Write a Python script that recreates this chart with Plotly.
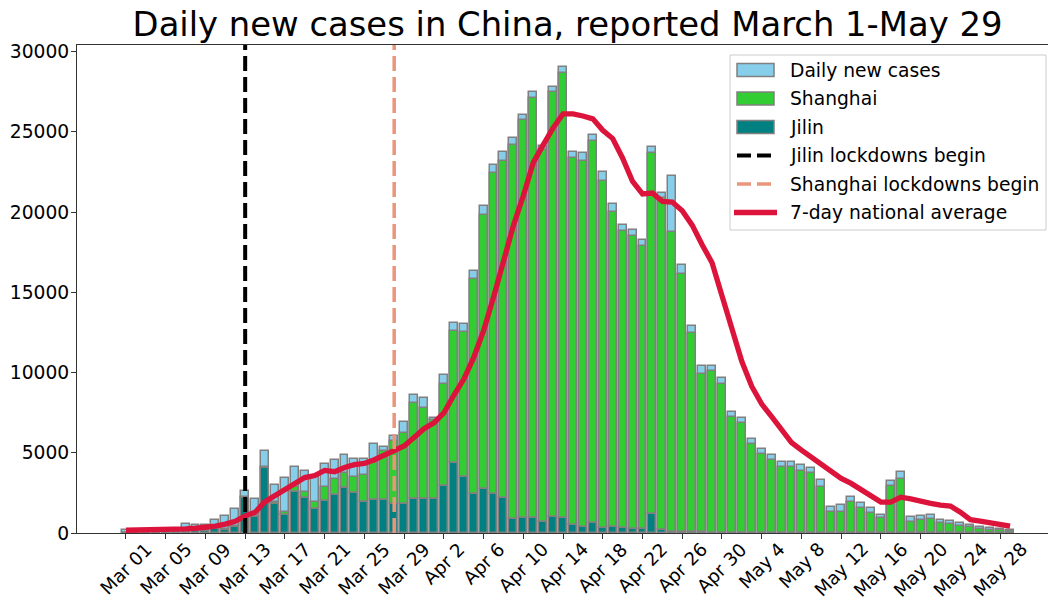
import pandas as pd
import plotly.graph_objects as go

# ---------------- data ----------------
dates = pd.date_range("2022-03-01", "2022-05-29").strftime("%Y-%m-%d").tolist()

daily_total = [170, 180, 190, 210, 230, 260, 540, 470, 480, 820,
               1070, 1490, 2620, 2090, 5100, 3000, 3410, 4100, 3870, 3515,
               4285, 4555, 4846, 4618, 4640, 5530, 5390, 6040, 6890, 8610,
               8400, 7200, 9860, 13080, 13020, 16350, 20360, 22960, 23730, 24630,
               26080, 27500, 24110, 27790, 29040, 23750, 23690, 24840, 22490, 20510,
               19220, 18910, 18280, 24070, 21200, 22240, 16720, 12900, 10380, 10440,
               9690, 7530, 7160, 5850, 5240, 4850, 4430, 4430, 4240, 4040,
               3290, 1620, 1750, 2270, 1850, 1580, 1120, 3250, 3810, 980,
               1060, 1100, 810, 750, 600, 500, 400, 310, 250, 190]

shanghai = [2, 3, 5, 5, 10, 15, 30, 40, 60, 60,
            70, 80, 70, 60, 80, 170, 200, 310, 400, 480,
            870, 1000, 980, 1000, 1660, 2330, 3100, 3950, 4450, 6030,
            5700, 4900, 6340, 8220, 9030, 13400, 17120, 20030, 21010, 23340,
            24810, 26150, 23190, 26460, 27770, 22880, 22780, 23770, 21630, 19630,
            18550, 18240, 17620, 22510, 20700, 18660, 16060, 12410, 9880, 10040,
            9250, 7240, 6820, 5510, 4890, 4540, 4130, 4130, 3880, 3710,
            2880, 1280, 1320, 1950, 1530, 1265, 910, 2930, 3365, 705,
            810, 850, 600, 560, 435, 352, 268, 206, 164, 123]

jilin = [10, 10, 10, 15, 20, 30, 80, 100, 150, 230,
         190, 380, 2200, 1000, 4030, 1790, 1120, 2580, 2160, 1480,
         2020, 2370, 2790, 2520, 1960, 2030, 2030, 1810, 1810, 2100,
         2100, 2140, 2930, 4390, 3520, 2430, 2720, 2410, 2200, 870,
         960, 940, 710, 1020, 920, 500, 400, 650, 290, 350,
         290, 250, 250, 1190, 190, 80, 60, 50, 40, 30,
         30, 20, 20, 20, 20, 15, 10, 10, 10, 10,
         10, 10, 10, 5, 5, 5, 5, 5, 5, 2,
         2, 2, 2, 2, 2, 2, 2, 2, 2, 2]

avg_7day = [170, 175, 180, 188, 196, 207, 254, 297, 340, 430,
            553, 733, 1070, 1291, 1953, 2313, 2683, 3116, 3456, 3584,
            3897, 3819, 4083, 4256, 4333, 4570, 4838, 5088, 5422, 5960,
            6500, 6866, 7484, 8583, 9580, 10931, 12610, 14690, 17051, 19161,
            21019, 23087, 24196, 25257, 26126, 26129, 25994, 25817, 25101, 24587,
            23363, 21916, 21134, 21189, 20669, 20633, 20091, 19189, 17970, 16850,
            14796, 12843, 10689, 9136, 8041, 7251, 6393, 5641, 5171, 4726,
            4360, 3843, 3400, 3091, 2723, 2343, 1926, 1920, 2233, 2123,
            1950, 1843, 1733, 1680, 1301, 829, 746, 639, 517, 429]

jilin_lockdown = "2022-03-13"
shanghai_lockdown = "2022-03-28"

tick_dates = dates[::4]
tick_labels = ["Mar 01", "Mar 05", "Mar 09", "Mar 13", "Mar 17", "Mar 21", "Mar 25",
               "Mar 29", "Apr 2", "Apr 6", "Apr 10", "Apr 14", "Apr 18", "Apr 22",
               "Apr 26", "Apr 30", "May 4", "May 8", "May 12", "May 16", "May 20",
               "May 24", "May 28"]
y_ticks = [0, 5000, 10000, 15000, 20000, 25000, 30000]
y_tick_labels = ["0", "5000", "10000", "15000", "20000", "25000", "30000"]

legend_labels = ["Daily new cases", "Shanghai", "Jilin", "Jilin lockdowns begin",
                 "Shanghai lockdowns begin", "7-day national average"]

# ---------------- style ----------------
FONT = "DejaVu Sans"
SKY, LIME, TEAL, GREY = "#87CEEB", "#32CD32", "#008080", "#808080"
SALMON, CRIMSON = "#E9967A", "#DC143C"
W, H = 1048, 601
L, R, T, B = 77, 1048, 45, 533


def px_x(px):
    return (px - L) / (R - L)


def px_y(py):
    return (B - py) / (B - T)


fig = go.Figure()
bar_line = dict(color=GREY, width=1.5)
fig.add_trace(go.Bar(x=dates, y=daily_total, width=0.8, marker=dict(color=SKY, line=bar_line),
                     name=legend_labels[0], showlegend=False))
fig.add_trace(go.Bar(x=dates, y=shanghai, base=jilin, width=0.8, marker=dict(color=LIME, line=bar_line),
                     name=legend_labels[1], showlegend=False))
fig.add_trace(go.Bar(x=dates, y=jilin, width=0.8, marker=dict(color=TEAL, line=bar_line),
                     name=legend_labels[2], showlegend=False))
fig.add_trace(go.Scatter(x=dates, y=avg_7day, mode="lines", line=dict(color=CRIMSON, width=5.3),
                         name=legend_labels[5], showlegend=False))

shapes = []
# lockdown lines
shapes.append(dict(type="line", xref="x", yref="paper", x0=jilin_lockdown, x1=jilin_lockdown,
                   y0=0, y1=1, line=dict(color="black", width=4, dash="15px,6px"), layer="above"))
shapes.append(dict(type="line", xref="x", yref="paper", x0=shanghai_lockdown, x1=shanghai_lockdown,
                   y0=0, y1=1, line=dict(color=SALMON, width=3.5, dash="15px,6px"), layer="above"))

# legend box
shapes.append(dict(type="rect", xref="paper", yref="paper", x0=px_x(730), x1=px_x(1046),
                   y0=px_y(230), y1=px_y(55), line=dict(color="#cccccc", width=1),
                   fillcolor="rgba(255,255,255,0.8)", layer="above"))
rows = [70, 98.5, 127, 155.5, 184, 212.5]
for cy, col in zip(rows[:3], [SKY, LIME, TEAL]):
    shapes.append(dict(type="rect", xref="paper", yref="paper", x0=px_x(737), x1=px_x(774),
                       y0=px_y(cy + 6.5), y1=px_y(cy - 6.5), line=dict(color=GREY, width=1.5),
                       fillcolor=col, layer="above"))
shapes.append(dict(type="line", xref="paper", yref="paper", x0=px_x(737), x1=px_x(772),
                   y0=px_y(rows[3]), y1=px_y(rows[3]), line=dict(color="black", width=4, dash="14px,6px"),
                   layer="above"))
shapes.append(dict(type="line", xref="paper", yref="paper", x0=px_x(737), x1=px_x(772),
                   y0=px_y(rows[4]), y1=px_y(rows[4]), line=dict(color=SALMON, width=3.5, dash="14px,6px"),
                   layer="above"))
shapes.append(dict(type="line", xref="paper", yref="paper", x0=px_x(734), x1=px_x(777),
                   y0=px_y(rows[5]), y1=px_y(rows[5]), line=dict(color=CRIMSON, width=5.3),
                   layer="above"))

annotations = []
for cy, txt in zip(rows, legend_labels):
    annotations.append(dict(xref="paper", yref="paper", x=px_x(788), y=px_y(cy), text=txt,
                            xanchor="left", yanchor="middle", showarrow=False,
                            font=dict(family=FONT, size=18.7, color="black")))
# rotated x tick labels (centred under their ticks)
for d, txt in zip(tick_dates, tick_labels):
    annotations.append(dict(xref="x", yref="paper", x=d, y=px_y(537), text=txt, textangle=-45,
                            xanchor="center", yanchor="top", showarrow=False, borderpad=0,
                            font=dict(family=FONT, size=18.3, color="black")))

fig.update_layout(
    width=W, height=H,
    margin=dict(l=L, r=W - R, t=T, b=H - B, pad=0),
    paper_bgcolor="white", plot_bgcolor="white",
    barmode="overlay", bargap=0,
    showlegend=False,
    title=dict(text="Daily new cases in China, reported March 1-May 29",
               font=dict(family=FONT, size=33.8, color="black"),
               x=567.5 / W, xref="container", xanchor="center",
               y=1 - 12 / H, yref="container", yanchor="top"),
    font=dict(family=FONT, size=18.7, color="black"),
    shapes=shapes, annotations=annotations,
)
fig.update_xaxes(type="category", range=[-4.93, 92.82], tickvals=tick_dates, ticktext=[""] * len(tick_dates),
                 showticklabels=False, ticks="outside", ticklen=5, tickwidth=1, tickcolor="#333",
                 showline=True, linecolor="#333", linewidth=1, mirror=True, showgrid=False, zeroline=False)
fig.update_yaxes(range=[0, 30420], tickvals=y_ticks, ticktext=y_tick_labels, ticks="outside", ticklen=5,
                 tickwidth=1, tickcolor="#333", showline=True, linecolor="#333", linewidth=1, mirror=False,
                 showgrid=False, zeroline=False, ticklabelstandoff=-2,
                 tickfont=dict(family=FONT, size=18.7, color="black"))

fig.write_html("out.html", config={"displayModeBar": False},
               post_script="document.body.style.margin='0px';")
